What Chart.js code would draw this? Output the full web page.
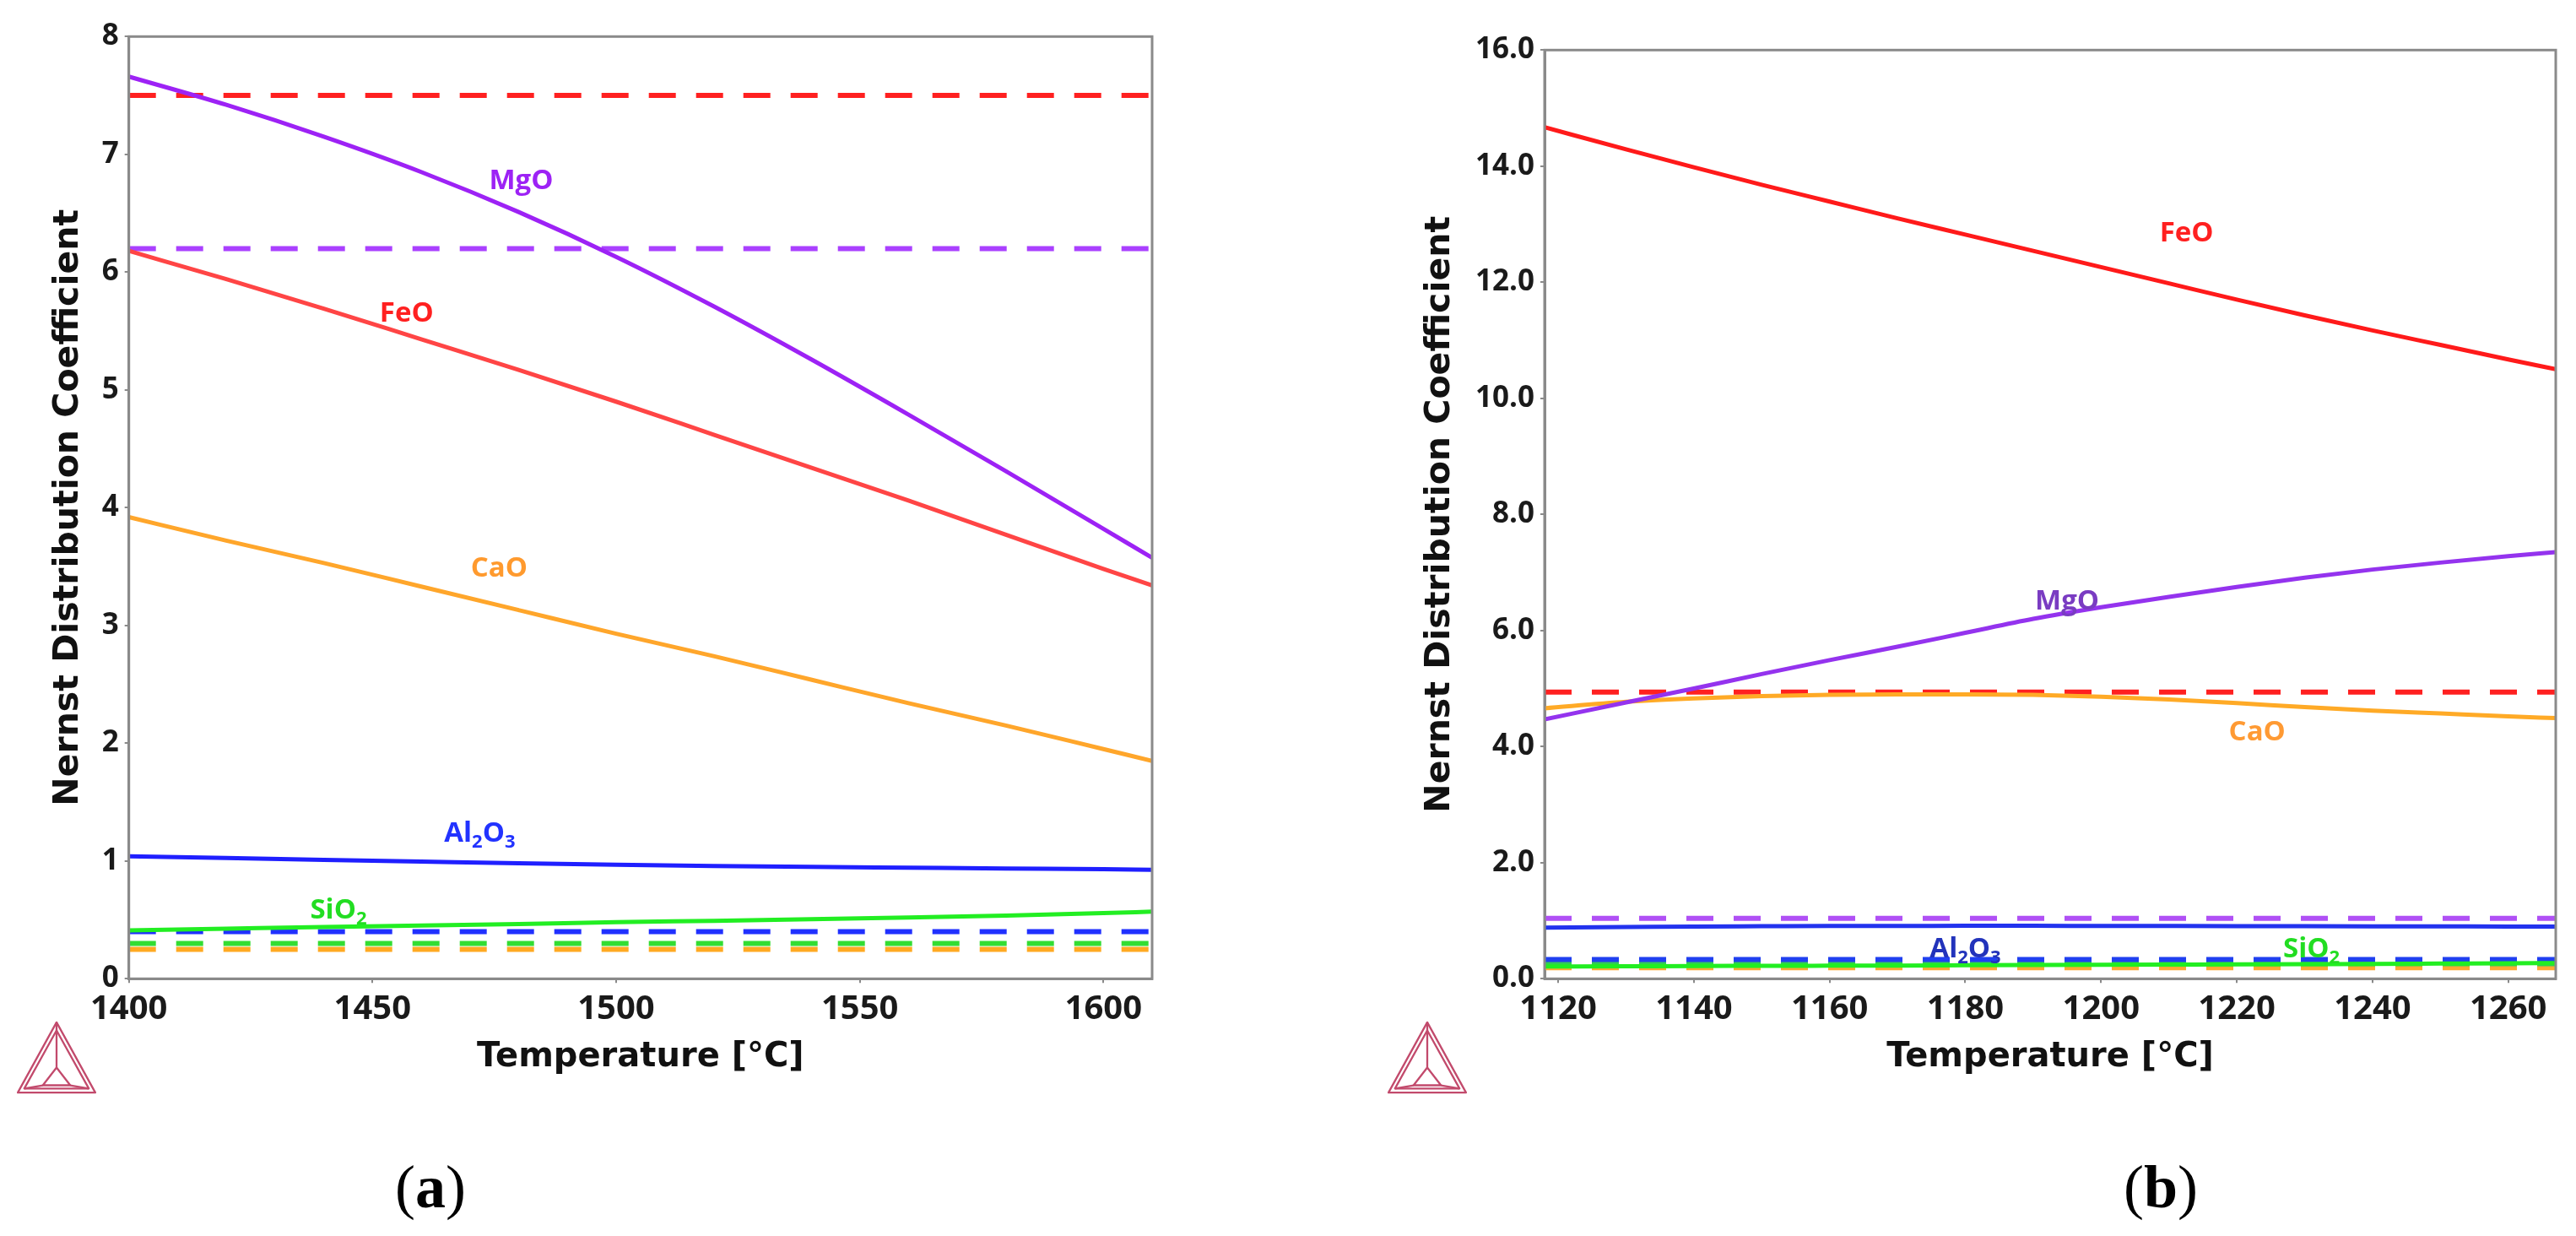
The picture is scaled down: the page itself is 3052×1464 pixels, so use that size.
<!DOCTYPE html>
<html><head><meta charset="utf-8">
<script src="https://cdn.jsdelivr.net/npm/chart.js@4.4.1/dist/chart.umd.min.js"></script>
<style>
html,body{margin:0;padding:0;background:#fff;}
#page{position:relative;width:3052px;height:1464px;background:#fff;overflow:hidden;}
.box{position:absolute;top:0;}
#boxA{left:0;}
#boxB{left:1600px;}
.fig{position:absolute;font-family:"Liberation Serif",serif;font-size:72px;color:#000;transform:translate(-50%,-50%);line-height:1;white-space:nowrap;}
.logo{position:absolute;top:1209px;width:98px;height:88px;}
</style></head>
<body><div id="page">
<div class="box" id="boxA"><canvas id="cA" width="1400" height="1320"></canvas></div>
<div class="box" id="boxB"><canvas id="cB" width="1452" height="1320"></canvas></div>
<div class="fig" style="left:510px;top:1406px;">(<b>a</b>)</div>
<div class="fig" style="left:2560px;top:1406px;">(<b>b</b>)</div>
<svg class="logo" style="left:18px;" viewBox="0 0 100 92"><g fill="none" stroke="#c24a6c" stroke-width="2.4" stroke-linejoin="round"><polygon points="50,2 2,89 98,89"/><polygon points="50,12 10,84 90,84"/><polygon points="50,58 33,80 67,80"/><line x1="50" y1="12" x2="50" y2="58"/><line x1="10" y1="84" x2="33" y2="80"/><line x1="90" y1="84" x2="67" y2="80"/><line x1="50" y1="2" x2="50" y2="12"/></g></svg>
<svg class="logo" style="left:1642px;" viewBox="0 0 100 92"><g fill="none" stroke="#c24a6c" stroke-width="2.4" stroke-linejoin="round"><polygon points="50,2 2,89 98,89"/><polygon points="50,12 10,84 90,84"/><polygon points="50,58 33,80 67,80"/><line x1="50" y1="12" x2="50" y2="58"/><line x1="10" y1="84" x2="33" y2="80"/><line x1="90" y1="84" x2="67" y2="80"/><line x1="50" y1="2" x2="50" y2="12"/></g></svg>
</div>
<script>
// ---------- Panel (a) data ----------
const tempA = [1400, 1420, 1440, 1460, 1480, 1500, 1520, 1540, 1560, 1580, 1600, 1610];
const mgoA  = [7.66, 7.42, 7.15, 6.85, 6.51, 6.13, 5.71, 5.26, 4.79, 4.31, 3.82, 3.575];
const feoA  = [6.18, 5.94, 5.69, 5.43, 5.17, 4.90, 4.62, 4.34, 4.06, 3.77, 3.48, 3.34];
const caoA  = [3.92, 3.72, 3.53, 3.33, 3.13, 2.93, 2.74, 2.54, 2.34, 2.15, 1.95, 1.85];
const al2o3A = [1.04, 1.025, 1.01, 0.995, 0.98, 0.968, 0.958, 0.95, 0.943, 0.936, 0.93, 0.925];
const sio2A = [0.41, 0.425, 0.44, 0.452, 0.465, 0.48, 0.492, 0.505, 0.52, 0.537, 0.557, 0.57];
const refRangeA = [1400, 1610];
const refFeoA = 7.50, refMgoA = 6.20, refAl2o3A = 0.40, refSio2A = 0.30, refCaoA = 0.25;
const yTicksA = [0, 8, 1];          // min, max, step
const xTicksA = [1400, 1610, 50];
const labelsA = [
  {text: 'MgO',   t: 1480.5, v: 6.77},
  {text: 'FeO',   t: 1457,   v: 5.65},
  {text: 'CaO',   t: 1476,   v: 3.48},
  {text: 'Al2O3', t: 1472,   v: 1.23},
  {text: 'SiO2',  t: 1443,   v: 0.58}
];

// ---------- Panel (b) data ----------
const tempB = [1118, 1130, 1140, 1150, 1160, 1170, 1180, 1190, 1200, 1210, 1220, 1230, 1240, 1250, 1260, 1267];
const feoB  = [14.67, 14.29, 13.98, 13.68, 13.39, 13.10, 12.82, 12.54, 12.26, 11.98, 11.70, 11.43, 11.17, 10.92, 10.67, 10.50];
const mgoB  = [4.47, 4.76, 5.00, 5.25, 5.49, 5.72, 5.96, 6.20, 6.40, 6.58, 6.75, 6.91, 7.05, 7.17, 7.28, 7.35];
const caoB  = [4.66, 4.77, 4.83, 4.87, 4.89, 4.90, 4.90, 4.89, 4.86, 4.81, 4.75, 4.68, 4.62, 4.57, 4.52, 4.49];
const al2o3B = [0.88, 0.89, 0.90, 0.905, 0.91, 0.91, 0.912, 0.912, 0.91, 0.91, 0.908, 0.905, 0.903, 0.902, 0.90, 0.90];
const sio2B = [0.21, 0.215, 0.22, 0.222, 0.225, 0.228, 0.232, 0.236, 0.24, 0.244, 0.248, 0.252, 0.256, 0.261, 0.266, 0.27];
const refRangeB = [1118, 1267];
const refFeoB = 4.94, refMgoB = 1.04, refAl2o3B = 0.33, refSio2B = 0.26, refCaoB = 0.19;
const yTicksB = [0, 16, 2];
const xTicksB = [1118, 1267, 20];
const labelsB = [
  {text: 'FeO',   t: 1212.6, v: 12.84},
  {text: 'MgO',   t: 1195,   v: 6.50},
  {text: 'CaO',   t: 1223,   v: 4.24},
  {text: 'Al2O3', t: 1180,   v: 0.51},
  {text: 'SiO2',  t: 1231,   v: 0.51}
];

// ---------- helpers ----------
function solid(data, temps, color) {
  return {data: temps.map((t, i) => ({x: t, y: data[i]})), borderColor: color, borderWidth: 5,
          pointRadius: 0, cubicInterpolationMode: 'monotone', fill: false};
}
function dashed(value, range, color) {
  return {data: range.map(t => ({x: t, y: value})), borderColor: color, borderWidth: 6,
          borderDash: [32, 24], borderCapStyle: 'butt', pointRadius: 0, fill: false};
}
function drawChem(ctx, text, cx, cy, color) {
  const parts = text.match(/[A-Za-z]+|\d+/g);
  const big = 'bold 33px "Open Sans"', small = 'bold 22px "Open Sans"';
  let w = 0;
  const segs = parts.map(p => {
    const sub = /^\d/.test(p);
    ctx.font = sub ? small : big;
    const m = ctx.measureText(p).width;
    w += m;
    return {p, sub, m};
  });
  let xx = cx - w / 2;
  ctx.fillStyle = color;
  ctx.textBaseline = 'middle';
  ctx.textAlign = 'left';
  for (const s of segs) {
    ctx.font = s.sub ? small : big;
    ctx.fillText(s.p, xx, cy + (s.sub ? 10 : 0));
    xx += s.m;
  }
}
const labelPlugin = {
  id: 'lineLabels',
  afterDatasetsDraw(chart, args, opts) {
    const {ctx, scales: {x, y}} = chart;
    ctx.save();
    for (const lab of opts.items) {
      drawChem(ctx, lab.text, x.getPixelForValue(lab.t), y.getPixelForValue(lab.v), lab.color);
    }
    ctx.restore();
  }
};
const framePlugin = {
  id: 'frame',
  afterDraw(chart) {
    const {ctx, chartArea: a} = chart;
    ctx.save();
    ctx.strokeStyle = '#8a8a8a';
    ctx.lineWidth = 3;
    ctx.strokeRect(a.left, a.top, a.right - a.left, a.bottom - a.top);
    ctx.restore();
  }
};

function makeChart(id, cfg) {
  return new Chart(document.getElementById(id), {
    type: 'line',
    data: {datasets: cfg.datasets},
    plugins: [labelPlugin, framePlugin],
    options: {
      responsive: false,
      animation: false,
      events: [],
      layout: {padding: cfg.padding},
      plugins: {legend: {display: false}, tooltip: {enabled: false}, lineLabels: {items: cfg.labels}},
      scales: {
        x: {
          type: 'linear', min: cfg.xt[0], max: cfg.xt[1],
          afterFit: s => { s.height = cfg.xAxisH; },
          ticks: {stepSize: cfg.xt[2], includeBounds: false, padding: 7, color: '#1a1a1a',
                  font: {family: '"Open Sans"', size: 40, weight: 'bold'},
                  callback: v => String(v), maxRotation: 0, autoSkip: false},
          grid: {drawOnChartArea: false, drawTicks: true, tickLength: 5, color: '#8a8a8a', lineWidth: 2},
          border: {display: true, color: '#8a8a8a', width: 3},
          title: {display: true, text: 'Temperature [°C]', color: '#111',
                  font: {family: '"DejaVu Sans"', size: 40, weight: 'bold'}, padding: {top: 0, bottom: 43}}
        },
        y: {
          type: 'linear', min: cfg.yt[0], max: cfg.yt[1],
          afterFit: s => { s.width = cfg.yAxisW; },
          ticks: {stepSize: cfg.yt[2], padding: 7, color: '#1a1a1a',
                  font: {family: '"Open Sans"', size: 35, weight: 'bold'},
                  callback: cfg.yFmt},
          grid: {drawOnChartArea: false, drawTicks: true, tickLength: 5, color: '#8a8a8a', lineWidth: 2},
          border: {display: true, color: '#8a8a8a', width: 3},
          title: {display: true, text: 'Nernst Distribution Coefficient', color: '#111',
                  font: {family: '"DejaVu Sans"', size: 41, weight: 'bold'}, padding: {top: cfg.yTitlePad, bottom: 0}}
        }
      }
    }
  });
}

makeChart('cA', {
  datasets: [
    solid(mgoA, tempA, '#9d22f5'),
    solid(feoA, tempA, '#ff4545'),
    solid(caoA, tempA, '#ffa62b'),
    solid(al2o3A, tempA, '#1f1fff'),
    solid(sio2A, tempA, '#22ee22'),
    dashed(refFeoA, refRangeA, '#ff2020'),
    dashed(refMgoA, refRangeA, '#aa40ff'),
    dashed(refAl2o3A, refRangeA, '#2030ff'),
    dashed(refSio2A, refRangeA, '#33dd33'),
    dashed(refCaoA, refRangeA, '#ffaa22')
  ],
  labels: [
    Object.assign({color: '#9d22f5'}, labelsA[0]),
    Object.assign({color: '#ff2020'}, labelsA[1]),
    Object.assign({color: '#ff9a2e'}, labelsA[2]),
    Object.assign({color: '#2233ff'}, labelsA[3]),
    Object.assign({color: '#22dd22'}, labelsA[4])
  ],
  padding: {top: 43.3, right: 35, left: 0, bottom: 0},
  xAxisH: 160.7, yAxisW: 152.7, yTitlePad: 56.4,
  xt: xTicksA, yt: yTicksA, yFmt: v => String(v)
});

makeChart('cB', {
  datasets: [
    solid(feoB, tempB, '#ff1a1a'),
    solid(mgoB, tempB, '#9433ee'),
    solid(caoB, tempB, '#ffaa26'),
    solid(al2o3B, tempB, '#2233ee'),
    solid(sio2B, tempB, '#22ee22'),
    dashed(refFeoB, refRangeB, '#ff2020'),
    dashed(refMgoB, refRangeB, '#b050f5'),
    dashed(refAl2o3B, refRangeB, '#2040f0'),
    dashed(refSio2B, refRangeB, '#33cc55'),
    dashed(refCaoB, refRangeB, '#ffaa33')
  ],
  labels: [
    Object.assign({color: '#ff2020'}, labelsB[0]),
    Object.assign({color: '#7a3cc2'}, labelsB[1]),
    Object.assign({color: '#ff9a33'}, labelsB[2]),
    Object.assign({color: '#2233bb'}, labelsB[3]),
    Object.assign({color: '#22dd22'}, labelsB[4])
  ],
  padding: {top: 59.3, right: 24, left: 0, bottom: 0},
  xAxisH: 160.7, yAxisW: 230, yTitlePad: 81.4,
  xt: xTicksB, yt: yTicksB, yFmt: v => Number(v).toFixed(1)
});
</script>
</body></html>
